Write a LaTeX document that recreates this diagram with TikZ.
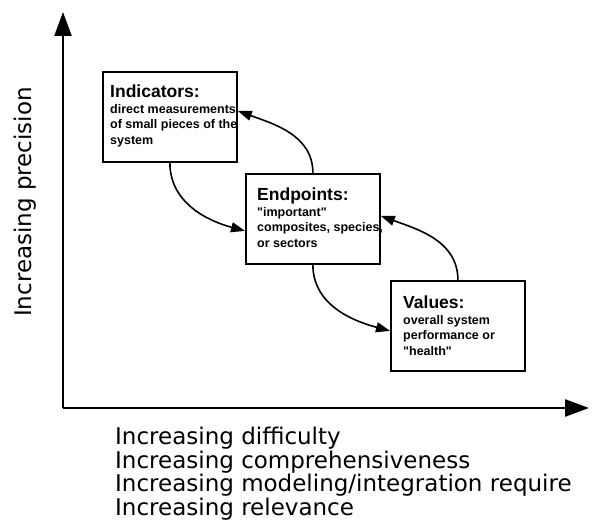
\documentclass[tikz,border=0pt]{standalone}
\usepackage{fontspec}
\setmainfont{DejaVu Sans}
\newfontfamily\boxfont{Liberation Sans}
\usetikzlibrary{arrows.meta}
\newcommand{\boxtitle}[1]{{\fontsize{17.5}{18}\selectfont\bfseries #1}}

\begin{document}
\begin{tikzpicture}[x=1pt,y=1pt,
        axis/.style = {line width=2.4pt,-{Triangle[length=24pt,width=17pt]}},
        arrow/.style = {line width=1.6pt,-{Triangle[length=14pt,width=10pt]}},
        box/.style = {draw,line width=1.8pt,minimum width=134pt,minimum height=90pt,
                      anchor=north west,inner sep=0pt},
        boxtext/.style = {anchor=north west,align=left,inner sep=0pt,
                          font=\boxfont\fontsize{12.5}{15.5}\selectfont\bfseries},
        axislabel/.style = {inner sep=0pt,align=left,font=\fontsize{23}{23.5}\selectfont}]
    \useasboundingbox (0,0) rectangle (602,525);

    % axes
    \coordinate (origin) at (63,117);
    \coordinate (ytip) at (63,513);
    \coordinate (xtip) at (589,117);
    \draw[axis] (origin) -- (ytip);
    \draw[axis] (origin) -- (xtip);

    \node[axislabel,rotate=90] (ylabel) at (25,323) {Increasing precision};
    \node[axislabel,anchor=north west] (xlabel) at (115,98)
        {Increasing difficulty\\
         Increasing comprehensiveness\\
         Increasing modeling/integration require\\
         Increasing relevance};

    % boxes
    \node[box] (ind) at (102,454) {};
    \node[box] (end) at (245,352) {};
    \node[box] (val) at (390,245) {};

    \node[boxtext] (indtext) at (110,440)
        {\boxtitle{Indicators:}\\
         direct measurements\\
         of small pieces of the\\
         system};
    \node[boxtext] (endtext) at (257,337)
        {\boxtitle{Endpoints:}\\
         \textquotedbl important\textquotedbl\\
         composites, species,\\
         or sectors};
    \node[boxtext] (valtext) at (403,229)
        {\boxtitle{Values:}\\
         overall system\\
         performance or\\
         \textquotedbl health\textquotedbl};

    % cycle between the levels
    \draw[arrow] (ind.south) to[out=-90,in=165] ([yshift=-12pt]end.west);
    \draw[arrow] (end.north) to[out=90,in=-20] ([yshift=6pt]ind.east);
    \draw[arrow] (end.south) to[out=-90,in=165] ([yshift=-5pt]val.west);
    \draw[arrow] (val.north) to[out=90,in=-20] ([yshift=3pt]end.east);
\end{tikzpicture}
\end{document}
